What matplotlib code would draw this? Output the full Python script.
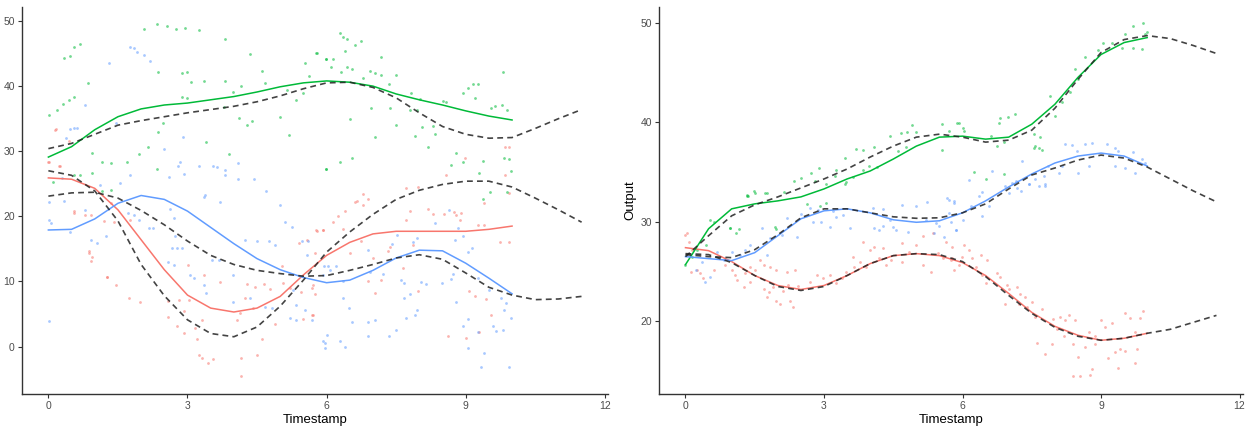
import numpy as np
import matplotlib
matplotlib.use("Agg")
from matplotlib import pyplot as plt

plt.rcParams['font.family'] = ['Liberation Sans', 'DejaVu Sans']

RED, GREEN, BLUE = '#F8766D', '#00BA38', '#619CFF'

# x grids for the fitted curves (solid: observed range, dashed: extrapolated)
t_fit = np.arange(0, 10.01, 0.5)
t_ext = np.arange(0, 11.51, 0.5)

# ---------------- left panel ----------------
left_green_x = [2.06, 2.34, 2.56, 2.75, 2.94, 3.24, 3.80, 0.55, 0.69, 0.34, 0.47, 4.34, 5.78, 5.98, 5.54,
                4.60, 2.36, 2.89, 3.00, 3.07, 3.35, 0.86, 3.80, 3.99, 4.15, 4.67, 5.61, 5.14, 5.35, 5.50,
                4.99, 5.19, 0.55, 0.44, 0.32, 0.18, 0.01, 2.88, 2.99, 3.78, 4.11, 4.29, 4.39, 2.36, 2.47,
                3.40, 3.90, 1.96, 2.14, 1.16, 1.34, 1.70, 2.34, 0.94, 5.98, 0.55, 0.69, 0.94, 1.16, 1.34,
                0.11, 6.29, 6.36, 6.43, 6.75, 6.61, 6.39, 5.80, 5.98, 6.14, 7.18, 6.09, 6.44, 6.55, 6.32,
                6.93, 7.05, 7.18, 7.49, 6.79, 7.34, 7.83, 8.02, 6.96, 7.36, 7.79, 7.94, 6.50, 7.50, 8.06,
                8.29, 7.04, 7.90, 8.34, 8.18, 6.54, 6.30, 5.98, 8.51, 8.58, 8.95, 9.06, 9.15, 9.27, 9.19,
                9.55, 9.64, 9.79, 9.89, 9.80, 8.80, 8.95, 8.69, 9.38, 9.28, 9.83, 9.94, 9.98, 9.53, 9.90,
                9.38]
left_green_y = [48.8, 49.5, 49.2, 48.7, 48.9, 48.6, 47.2, 46.0, 46.4, 44.3, 44.7, 45.0, 45.1, 44.2, 43.5,
                42.3, 42.2, 42.0, 42.2, 40.6, 40.8, 40.5, 40.8, 39.1, 40.0, 40.5, 41.6, 39.4, 37.9, 38.9,
                35.3, 32.5, 38.4, 37.8, 37.2, 36.4, 35.5, 38.4, 38.2, 36.8, 35.1, 34.0, 34.6, 33.0, 34.3,
                31.4, 29.6, 29.6, 30.6, 28.3, 28.2, 28.3, 27.2, 29.7, 27.2, 26.4, 26.4, 26.7, 23.9, 24.1,
                25.3, 48.2, 47.6, 47.2, 46.9, 46.3, 45.4, 45.1, 44.2, 44.1, 44.5, 42.9, 42.9, 42.7, 42.1,
                42.3, 42.0, 41.7, 41.7, 41.2, 40.3, 38.9, 38.0, 36.7, 36.7, 36.4, 36.3, 35.0, 34.0, 33.7,
                33.8, 32.2, 32.3, 32.7, 30.7, 29.0, 28.3, 27.2, 37.7, 37.6, 38.9, 39.7, 40.3, 40.3, 38.1,
                36.7, 36.9, 37.1, 36.4, 42.2, 29.8, 28.4, 27.9, 28.5, 26.7, 29.0, 28.8, 27.0, 23.8, 23.8,
                22.6]

left_blue_x = [1.75, 1.84, 1.91, 2.06, 2.20, 1.30, 0.80, 0.55, 0.62, 0.47, 0.37, 1.45, 2.90, 2.49, 2.84,
               2.80, 2.93, 3.24, 3.56, 3.63, 3.81, 4.10, 3.81, 4.09, 4.44, 4.69, 2.61, 1.77, 1.54, 1.11,
               0.30, 3.37, 0.01, 0.01, 0.05, 0.34, 0.47, 0.80, 1.25, 0.91, 1.05, 1.72, 1.84, 1.95, 2.16,
               2.26, 2.62, 2.72, 2.74, 2.67, 2.77, 2.88, 2.59, 2.70, 3.06, 3.13, 3.53, 3.67, 3.35, 3.40,
               3.99, 4.24, 4.49, 4.75, 4.89, 5.10, 5.25, 5.00, 5.46, 5.60, 5.28, 5.35, 4.67, 4.82, 3.99,
               4.35, 5.21, 5.35, 5.53, 5.68, 6.00, 5.93, 0.01, 3.70, 3.35, 5.57, 5.95, 8.65, 8.34, 8.83,
               8.76, 8.95, 9.13, 9.04, 7.40, 7.52, 7.94, 7.86, 6.89, 6.93, 7.22, 7.61, 7.68, 8.04, 8.15,
               8.49, 8.69, 8.72, 9.26, 9.51, 9.76, 9.87, 9.83, 9.98, 6.36, 6.03, 6.21, 5.93, 6.36, 6.49,
               6.54, 6.89, 7.04, 6.89, 7.34, 7.50, 7.72, 7.79, 7.68, 7.94, 7.90, 8.80, 8.95, 9.05, 9.26,
               9.05, 9.39, 9.33, 9.94, 5.96, 5.96, 6.29, 6.39, 9.58, 9.65, 9.80, 6.07]
left_blue_y = [46.0, 45.8, 45.3, 44.8, 43.8, 43.6, 37.1, 33.6, 33.6, 33.4, 32.1, 34.3, 32.2, 30.4, 28.3,
               27.7, 26.5, 27.8, 27.8, 27.5, 27.1, 28.2, 26.3, 25.8, 25.7, 23.9, 26.0, 26.4, 25.1, 24.8,
               25.9, 23.3, 22.2, 19.4, 18.9, 22.3, 17.6, 21.0, 16.9, 16.4, 15.9, 20.5, 20.2, 19.4, 18.2,
               18.2, 21.2, 19.7, 16.9, 15.2, 15.1, 15.1, 13.0, 12.5, 11.0, 10.5, 13.3, 13.3, 9.5, 8.2,
               11.0, 16.4, 16.2, 16.2, 15.6, 19.2, 18.4, 21.7, 16.2, 16.2, 8.7, 6.4, 6.1, 5.9, 6.9,
               7.4, 4.4, 4.1, 5.6, 4.1, 1.8, 0.8, 3.9, 22.2, 23.0, 14.1, 12.3, 21.0, 19.0, 18.2,
               16.4, 16.9, 15.2, 14.5, 15.7, 17.2, 16.7, 16.1, 14.8, 11.5, 11.2, 10.2, 9.7, 9.9, 9.6,
               9.7, 10.4, 11.2, 10.6, 8.7, 7.4, 6.7, 5.6, 4.4, 10.1, 12.3, 12.3, 11.0, 7.4, 5.9,
               3.8, 3.8, 4.1, 1.6, 1.6, 2.6, 4.4, 8.0, 7.4, 5.6, 4.9, 6.9, 3.2, 4.3, 2.3,
               -0.2, -1.0, -3.1, -3.2, 0.5, -0.3, 0.8, 0.0, 3.1, 2.4, 2.6, 11.8]

left_red_x = [0.16, 0.01, 0.25, 0.44, 0.55, 0.80, 0.91, 1.19, 1.41, 1.34, 1.77, 0.87, 0.94, 0.91, 1.27,
              1.45, 1.73, 1.98, 2.57, 2.59, 2.77, 2.93, 3.17, 3.31, 2.92, 3.03, 2.81, 3.35, 3.70, 3.02,
              3.20, 3.24, 3.31, 3.45, 3.54, 4.06, 4.13, 4.15, 4.15, 4.49, 4.60, 4.28, 4.46, 4.64, 4.78,
              4.89, 5.07, 5.21, 5.44, 5.50, 5.70, 5.71, 5.41, 5.58, 5.80, 5.93, 5.75, 4.24, 4.42, 5.03,
              6.39, 6.61, 6.79, 6.14, 6.25, 6.36, 5.78, 5.93, 6.50, 6.75, 7.00, 7.33, 7.36, 7.65, 7.72,
              7.79, 8.19, 8.29, 8.54, 8.74, 8.80, 8.90, 8.87, 9.26, 9.40, 9.73, 9.94, 7.86, 7.97, 9.08,
              9.19, 9.43, 9.55, 9.28, 8.62, 9.00, 6.89, 7.04, 7.18, 5.68, 5.75, 5.68, 9.85, 9.93, 8.99,
              8.58, 9.85, 7.97, 7.71, 6.79, 6.89, 6.66, 9.40, 9.93, 0.14, 0.00, 0.23, 0.55, 0.87, 1.27]
left_red_y = [33.4, 28.3, 27.7, 31.6, 20.8, 20.2, 20.2, 19.3, 19.2, 22.1, 19.4, 14.6, 13.8, 13.1, 10.7,
              9.5, 7.5, 6.8, 7.0, 4.6, 3.1, 2.1, 2.8, 4.1, 5.4, 7.2, 7.2, 11.0, 9.9, 12.5,
              1.1, -1.3, -1.7, -2.6, -1.9, 4.1, 5.1, -1.7, -4.5, -1.3, 1.1, 9.6, 9.2, 9.6, 8.9,
              3.4, 9.7, 9.0, 8.3, 4.3, 4.8, 9.5, 15.9, 16.3, 17.8, 17.9, 14.3, 7.5, 5.9, 12.4,
              20.8, 22.2, 21.8, 19.2, 20.0, 18.1, 17.9, 17.9, 14.3, 16.2, 13.6, 14.6, 15.3, 12.0, 19.4,
              20.8, 21.2, 20.4, 20.3, 20.7, 20.2, 20.5, 19.4, 18.6, 18.6, 16.1, 16.1, 15.6, 8.5, 8.5,
              7.7, 7.3, 4.9, 2.3, 1.6, 1.3, 10.1, 8.2, 10.2, 4.9, 8.0, 9.0, 30.7, 30.6, 29.0,
              26.3, 26.3, 24.5, 24.4, 23.4, 22.7, 22.3, 22.1, 23.6, 33.2, 28.4, 27.8, 20.5, 14.3, 10.7]

left_red_fit = [25.9, 25.7, 24.3, 21.0, 16.4, 11.8, 7.9, 5.9, 5.3, 5.9, 7.7, 11.0, 14.0, 16.0, 17.3,
                17.7, 17.7, 17.7, 17.7, 18.0, 18.5]
left_green_fit = [29.1, 30.7, 33.3, 35.3, 36.5, 37.1, 37.4, 37.9, 38.4, 39.1, 39.9, 40.5, 40.8, 40.6, 40.0,
                  38.8, 37.9, 37.1, 36.2, 35.4, 34.8]
left_blue_fit = [17.9, 18.0, 19.6, 22.0, 23.2, 22.6, 20.8, 18.3, 15.8, 13.5, 11.8, 10.6, 9.8, 10.2, 11.7,
                 13.6, 14.8, 14.7, 12.8, 10.5, 8.1]

left_red_ext = [27.0, 26.3, 23.9, 19.3, 12.6, 7.8, 4.1, 2.0, 1.5, 3.0, 6.2, 10.2, 14.5, 17.6, 20.3,
                22.6, 24.0, 24.9, 25.4, 25.4, 24.5, 22.8, 21.0, 19.1]
left_green_ext = [30.4, 31.2, 32.6, 34.0, 34.7, 35.3, 35.9, 36.4, 36.9, 37.6, 38.5, 39.6, 40.5, 40.6, 39.8,
                  38.2, 35.9, 33.8, 32.6, 32.0, 32.1, 33.5, 35.0, 36.4]
left_blue_ext = [23.1, 23.6, 23.7, 22.8, 20.9, 18.7, 16.2, 14.0, 12.6, 11.7, 11.2, 10.8, 10.9, 11.7, 12.6,
                 13.6, 14.1, 13.4, 11.3, 9.1, 7.9, 7.2, 7.3, 7.7]

# ---------------- right panel ----------------
right_green_x = [4.90, 5.55, 5.89, 4.42, 4.66, 4.79, 4.99, 5.55, 4.78, 4.60, 4.08, 3.70, 3.84, 3.45, 3.97,
                 4.15, 3.84, 3.25, 2.89, 2.71, 3.23, 3.48, 2.50, 2.35, 2.80, 3.05, 3.63, 2.14, 1.76, 1.49,
                 1.34, 3.46, 2.63, 2.91, 3.05, 0.96, 1.15, 1.09, 0.61, 1.36, 0.45, 0.25, 0.00, 0.14, 1.94,
                 1.97, 0.54, 0.97, 1.33, 1.51, 1.72, 5.71, 5.93, 6.00, 6.82, 6.99, 7.14, 6.79, 6.61, 6.90,
                 6.75, 7.54, 7.68, 7.58, 7.65, 7.90, 8.01, 8.15, 8.33, 8.44, 8.50, 8.65, 8.94, 9.05, 9.23,
                 9.45, 9.70, 9.88, 9.52, 9.70, 9.91, 9.95, 10.00, 6.25, 6.50, 6.90, 7.54, 7.72, 6.03]
right_green_y = [39.7, 39.8, 39.9, 38.6, 38.9, 39.0, 39.0, 37.2, 37.5, 37.1, 37.5, 37.3, 37.2, 36.4, 35.6,
                 35.5, 35.2, 35.2, 35.4, 34.9, 34.6, 34.0, 34.4, 34.1, 34.1, 33.8, 34.5, 33.0, 32.9, 33.1,
                 32.6, 33.8, 31.8, 31.6, 31.9, 29.4, 29.3, 28.9, 30.0, 32.6, 27.7, 27.2, 25.7, 26.5, 29.5,
                 29.3, 30.2, 29.4, 32.7, 32.9, 32.9, 39.1, 39.9, 39.4, 40.4, 40.5, 40.8, 39.9, 38.6, 38.0,
                 37.6, 38.8, 38.5, 37.6, 37.4, 42.6, 40.6, 42.0, 43.0, 45.3, 44.3, 46.5, 47.3, 48.0, 48.0,
                 47.5, 47.5, 47.4, 48.9, 49.7, 50.0, 48.9, 49.1, 35.0, 34.3, 34.8, 37.4, 37.2, 39.1]

right_blue_x = [2.69, 2.87, 2.76, 2.94, 3.27, 3.41, 3.56, 3.12, 3.20, 2.51, 2.19, 2.41, 2.08, 1.83, 1.65,
                1.40, 1.29, 1.18, 1.01, 0.83, 1.76, 0.54, 0.43, 0.22, 0.36, 0.68, 4.06, 4.27, 4.70, 4.99,
                5.24, 5.67, 5.82, 4.09, 4.27, 4.56, 4.81, 5.20, 5.42, 5.85, 4.42, 4.20, 4.49, 8.23, 8.37,
                8.65, 8.80, 9.14, 9.30, 9.37, 9.70, 9.88, 9.95, 8.48, 8.73, 9.30, 9.52, 9.73, 8.15, 8.51,
                7.86, 8.08, 7.76, 7.65, 7.44, 7.26, 7.29, 6.63, 7.08, 7.18, 7.00, 7.79, 6.14, 6.43, 5.71,
                5.82, 6.18, 6.43, 6.57, 6.36, 5.71, 6.00, 5.75, 5.50, 5.86, 5.39, 5.60, 6.93, 7.15, 7.58,
                7.79, 7.43]
right_blue_y = [31.4, 31.2, 30.0, 30.0, 30.5, 30.7, 29.4, 29.5, 31.1, 30.8, 30.4, 28.5, 28.7, 28.4, 29.4,
                27.7, 27.2, 26.7, 27.0, 26.2, 26.7, 24.5, 24.0, 25.2, 26.0, 27.0, 31.4, 31.3, 31.7, 31.6,
                32.0, 32.4, 32.1, 29.4, 29.6, 29.2, 29.0, 30.2, 29.9, 29.2, 30.2, 29.2, 29.5, 37.8, 37.7,
                37.8, 37.9, 37.8, 37.4, 37.1, 37.0, 36.3, 35.9, 37.1, 35.6, 35.6, 35.4, 34.9, 35.6, 34.9,
                35.6, 34.9, 34.6, 33.6, 33.8, 33.1, 36.1, 35.1, 33.9, 33.4, 32.9, 33.8, 34.2, 33.0, 32.2,
                31.9, 31.6, 30.6, 31.6, 32.6, 30.9, 30.2, 30.0, 29.6, 29.2, 28.9, 28.5, 33.6, 34.1, 34.3,
                33.6, 33.8]

right_red_x = [0.00, 0.07, 0.04, 0.14, 0.11, 0.25, 0.32, 0.39, 0.61, 0.86, 1.01, 1.08, 1.29, 1.40, 1.51,
               1.62, 1.69, 1.83, 1.97, 2.19, 2.37, 1.11, 1.26, 1.40, 1.69, 1.80, 1.90, 1.76, 1.97, 2.05,
               2.26, 2.33, 2.12, 2.23, 2.44, 2.69, 2.84, 2.98, 3.12, 3.27, 3.38, 3.48, 3.63, 3.66, 3.77,
               3.91, 3.99, 4.09, 4.20, 4.27, 4.34, 4.45, 4.70, 4.85, 4.99, 5.14, 5.32, 5.46, 5.57, 5.64,
               5.75, 5.82, 5.35, 4.70, 5.14, 3.84, 5.78, 6.03, 6.14, 6.39, 5.78, 5.99, 6.20, 6.53, 5.93,
               6.29, 6.43, 6.75, 6.82, 6.50, 6.97, 7.00, 7.18, 6.93, 7.25, 7.36, 7.40, 7.50, 7.58, 7.72,
               7.61, 7.79, 7.94, 7.97, 8.04, 8.11, 8.22, 8.30, 8.44, 8.19, 8.40, 8.51, 8.66, 8.73, 8.87,
               9.01, 9.09, 9.23, 9.30, 9.41, 9.52, 9.52, 9.62, 9.73, 9.77, 9.84, 9.91, 9.37, 9.73, 8.40,
               8.55, 8.76, 8.80, 9.16, 8.87, 7.22]
right_red_y = [28.7, 28.0, 28.9, 27.2, 25.0, 25.2, 24.9, 24.4, 25.2, 25.7, 25.2, 24.7, 24.9, 25.5, 25.2,
               26.2, 25.7, 25.5, 25.2, 25.0, 25.2, 24.2, 23.4, 24.0, 23.2, 22.9, 23.4, 22.4, 22.0, 21.7,
               22.0, 21.4, 23.0, 23.7, 23.5, 24.0, 24.7, 24.4, 24.7, 23.9, 24.4, 25.0, 26.5, 25.5, 26.0,
               25.5, 27.2, 27.5, 26.4, 27.4, 25.7, 26.2, 26.0, 27.0, 27.7, 25.7, 25.0, 26.9, 26.4, 28.0,
               26.2, 25.2, 28.9, 27.9, 28.6, 28.0, 27.5, 27.7, 27.2, 26.7, 26.4, 26.5, 26.4, 26.2, 25.7,
               25.5, 24.7, 24.9, 24.5, 23.9, 23.7, 23.2, 23.4, 21.7, 22.7, 22.4, 21.4, 21.9, 20.4, 21.2,
               17.8, 16.7, 17.7, 20.2, 19.2, 20.4, 20.1, 20.6, 20.1, 18.5, 17.7, 16.4, 17.4, 18.9, 18.5,
               20.1, 19.4, 19.8, 16.9, 17.2, 17.0, 20.8, 20.3, 18.9, 17.2, 20.3, 21.0, 15.3, 15.8, 14.5,
               14.5, 14.6, 15.2, 16.3, 17.7, 21.7]

right_red_fit = [27.4, 27.1, 26.0, 24.6, 23.6, 23.2, 23.6, 24.6, 25.8, 26.6, 26.8, 26.6, 25.9, 24.6, 22.8,
                 20.9, 19.5, 18.6, 18.1, 18.3, 18.8]
right_green_fit = [25.7, 29.3, 31.3, 31.8, 32.1, 32.5, 33.3, 34.3, 35.1, 36.3, 37.6, 38.5, 38.6, 38.3, 38.5,
                   39.8, 41.8, 44.5, 46.8, 48.0, 48.5]
right_blue_fit = [26.5, 26.3, 26.1, 26.9, 28.6, 30.3, 31.1, 31.3, 30.9, 30.2, 29.95, 30.1, 30.9, 32.1, 33.5,
                  34.8, 35.9, 36.6, 36.9, 36.6, 35.6]

right_red_ext = [26.8, 26.7, 25.9, 24.6, 23.5, 23.1, 23.5, 24.6, 25.8, 26.6, 26.8, 26.7, 26.0, 24.5, 22.6,
                 20.8, 19.4, 18.5, 18.1, 18.3, 18.8, 19.2, 19.9, 20.6]
right_green_ext = [26.5, 28.6, 30.6, 31.7, 32.5, 33.4, 34.3, 35.3, 36.5, 37.6, 38.5, 38.8, 38.5, 38.0, 38.2,
                   39.2, 41.4, 44.3, 47.0, 48.3, 48.7, 48.4, 47.7, 46.9]
right_blue_ext = [26.7, 26.5, 26.4, 27.2, 28.7, 30.4, 31.3, 31.3, 30.9, 30.5, 30.35, 30.4, 30.9, 31.8, 33.3,
                  34.7, 35.4, 36.2, 36.7, 36.4, 35.5, 34.3, 33.1, 32.0]

x_ticks = [0, 3, 6, 9, 12]


def style_axes(ax):
    for side in ('top', 'right'):
        ax.spines[side].set_visible(False)
    for side in ('left', 'bottom'):
        ax.spines[side].set_color('#333333')
        ax.spines[side].set_linewidth(1.0)
    ax.tick_params(axis='both', colors='#333333', labelcolor='#4D4D4D', labelsize=7.5,
                   length=3, width=0.8, pad=2)
    ax.set_xlim(-0.575, 12.075)
    ax.set_xticks(x_ticks)
    ax.set_xlabel('Timestamp', fontsize=9.5, color='black', labelpad=2)


def draw_panel(ax, scatter, fits, exts):
    for (xs, ys), color in zip(scatter, (RED, GREEN, BLUE)):
        ax.scatter(xs, ys, s=4, color=color, alpha=0.55, linewidths=0, zorder=2)
    for ys, color in zip(fits, (RED, GREEN, BLUE)):
        ax.plot(t_fit, ys, color=color, lw=1.1, zorder=3)
    for ys in exts:
        ax.plot(t_ext, ys, color='#222222', lw=1.2, ls=(0, (3.5, 2.5)), alpha=0.85, zorder=4)


fig = plt.figure(figsize=(12.48, 4.33), dpi=100)
ax1 = fig.add_axes([0.0174, 0.090, 0.470, 0.8945])
ax2 = fig.add_axes([0.528, 0.090, 0.468, 0.8945])

draw_panel(ax1,
           [(left_red_x, left_red_y), (left_green_x, left_green_y), (left_blue_x, left_blue_y)],
           [left_red_fit, left_green_fit, left_blue_fit],
           [left_red_ext, left_green_ext, left_blue_ext])
style_axes(ax1)
ax1.set_ylim(-7.3, 52.2)
ax1.set_yticks([0, 10, 20, 30, 40, 50])

draw_panel(ax2,
           [(right_red_x, right_red_y), (right_green_x, right_green_y), (right_blue_x, right_blue_y)],
           [right_red_fit, right_green_fit, right_blue_fit],
           [right_red_ext, right_green_ext, right_blue_ext])
style_axes(ax2)
ax2.set_ylim(12.7, 51.6)
ax2.set_yticks([20, 30, 40, 50])
ax2.set_ylabel('Output', fontsize=9.5, color='black', labelpad=3)

fig.savefig('out.png', dpi=100)
